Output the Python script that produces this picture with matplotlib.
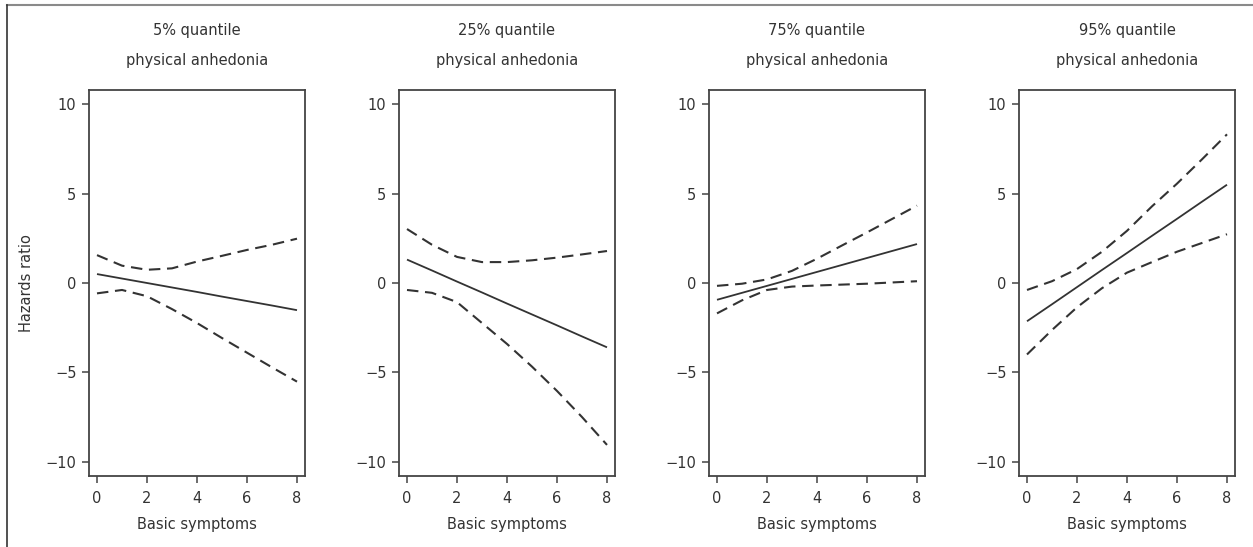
import matplotlib
matplotlib.use("Agg")
import matplotlib.pyplot as plt
from matplotlib.lines import Line2D

plt.rcParams['font.family'] = ['DejaVu Sans']

x = [0, 1, 2, 3, 4, 5, 6, 7, 8]
titles = ["5% quantile", "25% quantile", "75% quantile", "95% quantile"]
subtitle = "physical anhedonia"
xlabel = "Basic symptoms"
ylabel = "Hazards ratio"
xticks = [0, 2, 4, 6, 8]
yticks = [-10, -5, 0, 5, 10]

fit_q05 = [0.50, 0.25, 0.00, -0.25, -0.50, -0.76, -1.01, -1.26, -1.52]
upper_q05 = [1.56, 0.97, 0.74, 0.82, 1.20, 1.52, 1.85, 2.14, 2.48]
lower_q05 = [-0.58, -0.39, -0.74, -1.46, -2.24, -3.08, -3.90, -4.72, -5.52]

fit_q25 = [1.31, 0.70, 0.08, -0.53, -1.15, -1.76, -2.37, -2.99, -3.60]
upper_q25 = [3.02, 2.14, 1.46, 1.17, 1.17, 1.27, 1.42, 1.60, 1.79]
lower_q25 = [-0.39, -0.55, -1.07, -2.24, -3.41, -4.68, -6.04, -7.50, -9.06]

fit_q75 = [-0.94, -0.55, -0.16, 0.23, 0.62, 1.01, 1.40, 1.79, 2.18]
upper_q75 = [-0.16, -0.04, 0.20, 0.68, 1.36, 2.10, 2.83, 3.58, 4.33]
lower_q75 = [-1.70, -0.97, -0.39, -0.20, -0.14, -0.09, -0.04, 0.03, 0.10]

fit_q95 = [-2.14, -1.19, -0.23, 0.73, 1.68, 2.64, 3.59, 4.55, 5.50]
upper_q95 = [-0.39, 0.10, 0.78, 1.75, 2.92, 4.29, 5.56, 6.92, 8.32]
lower_q95 = [-4.00, -2.63, -1.36, -0.29, 0.58, 1.17, 1.75, 2.24, 2.73]

fits = [fit_q05, fit_q25, fit_q75, fit_q95]
uppers = [upper_q05, upper_q25, upper_q75, upper_q95]
lowers = [lower_q05, lower_q25, lower_q75, lower_q95]

W, H = 1253, 547
fig = plt.figure(figsize=(W / 100, H / 100), dpi=100)

lefts_px = [89, 399, 709, 1019]
ax_w_px, top_px, bot_px = 216, 90, 476
txt_col = "#333333"
line_col = "#333333"
fs = 10.5

for i in range(4):
    l = lefts_px[i] / W
    b = 1 - bot_px / H
    w = ax_w_px / W
    h = (bot_px - top_px) / H
    ax = fig.add_axes([l, b, w, h])
    ax.plot(x, fits[i], color=line_col, lw=1.3, solid_capstyle='butt')
    ax.plot(x, uppers[i], color=line_col, lw=1.5, linestyle=(0, (5.5, 3.2)))
    ax.plot(x, lowers[i], color=line_col, lw=1.5, linestyle=(0, (5.5, 3.2)))
    ax.set_xlim(-0.32, 8.32)
    ax.set_ylim(-10.8, 10.8)
    ax.set_xticks(xticks)
    ax.set_yticks(yticks)
    ax.set_yticklabels(["\u221210", "\u22125", "0", "5", "10"])
    for s in ax.spines.values():
        s.set_color("#444444")
        s.set_linewidth(1.3)
    ax.tick_params(direction='out', length=5, width=1.1, color="#444444",
                   labelsize=fs, labelcolor=txt_col)
    ax.tick_params(axis='x', pad=6)
    ax.tick_params(axis='y', pad=4)
    cx = (lefts_px[i] + ax_w_px / 2) / W
    fig.text(cx, 1 - 30 / H, titles[i], ha='center', va='center', fontsize=fs, color=txt_col)
    fig.text(cx, 1 - 60 / H, subtitle, ha='center', va='center', fontsize=fs, color=txt_col)
    fig.text(cx, 1 - 525 / H, xlabel, ha='center', va='center', fontsize=fs, color=txt_col)

fig.text(27 / W, 1 - 283 / H, ylabel, ha='center', va='center', rotation=90,
         fontsize=fs, color=txt_col)

# outer frame lines (top and left)
fig.add_artist(Line2D([7 / W, 1], [1 - 4.5 / H, 1 - 4.5 / H], color="#8a8a8a", lw=1.5,
                      transform=fig.transFigure))
fig.add_artist(Line2D([7 / W, 7 / W], [0, 1 - 4.5 / H], color="#333333", lw=1.2,
                      transform=fig.transFigure))

fig.savefig("out.png", dpi=100)
